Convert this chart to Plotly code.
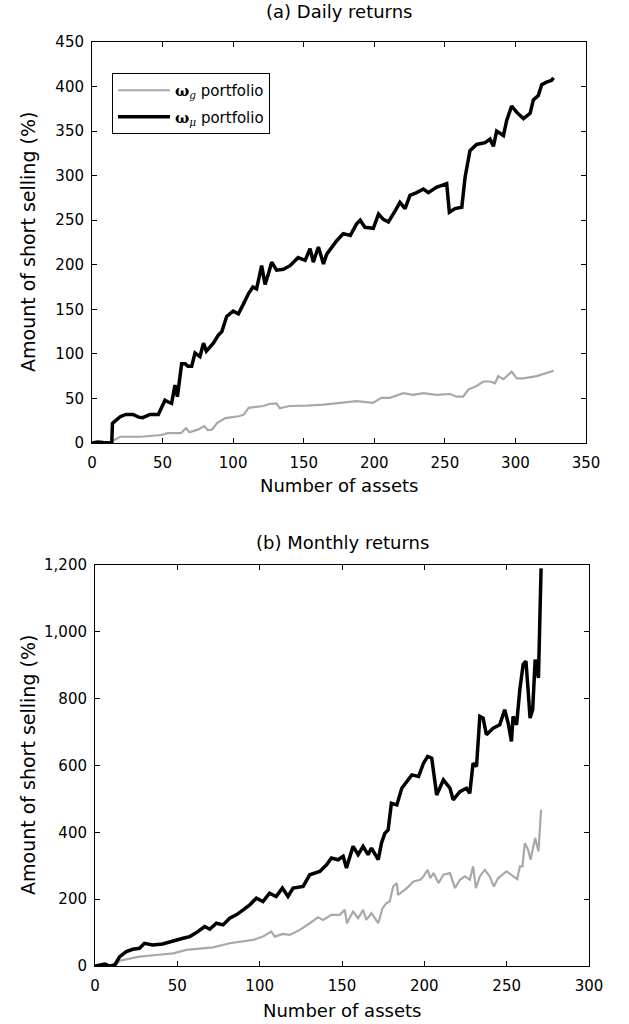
import plotly.graph_objects as go

# ---------------- data: (a) Daily returns ----------------
daily_mu_x = [0, 4, 8, 12, 14, 14.5, 17, 20, 24, 29, 33, 36, 41, 47, 49.4, 51.7, 54, 56.4, 58.8, 60.5,
              63.5, 66, 68, 70.6, 73, 75, 76.5, 79, 81, 86, 89.5, 92, 95.4, 100, 103.7, 107, 111, 114,
              116.6, 120.2, 122.6, 125, 127.3, 130.8, 135.6, 140.3, 146, 151, 154.5, 156.8, 160.4, 164,
              166.3, 173.4, 178, 183, 187.5, 190, 193.4, 199.3, 203, 206.4, 210, 215, 218.2, 221.8, 225.3,
              230, 234.8, 238.3, 244, 251.3, 253.2, 257.2, 262, 264.3, 267.8, 272.5, 278.5, 282, 284.4,
              286.7, 291.5, 293.8, 297.3, 301, 305.7, 310.4, 312.7, 316.2, 318.6, 322, 325.7, 327]
daily_mu_y = [0, 1, 0.5, 0, 0, 22, 25, 29.5, 32, 32, 29, 28.5, 32, 32, 40, 48, 46, 44.5, 65, 52,
              89, 89, 86, 86, 101, 99, 97, 112, 103, 112, 121, 125, 142, 148, 145, 155, 168, 175,
              173, 199, 178, 190, 203, 194, 195, 199, 208, 205, 218, 203, 220, 201,
              212, 227, 235, 233, 246, 250, 242, 241, 257, 251, 248, 261, 270, 263, 278,
              281, 285, 281, 287, 291, 259, 263, 264.5, 298, 328, 335, 337, 341, 333,
              350, 345, 362, 378, 371, 364, 370, 385, 390, 402, 405, 407, 410]

daily_g_x = [14, 20, 34.5, 48.9, 53.6, 62.9, 66.6, 69, 75, 79.6, 82, 85, 88.6, 94.5, 104, 107.6, 111,
             121.5, 126.1, 130.8, 133, 140, 152, 164, 176, 187.5, 199, 205, 211, 220.6, 227.6, 234.8,
             244, 253.6, 258.3, 263, 266.6, 272.5, 277.2, 282, 285.5, 287.8, 291.5, 297.3, 301, 305.7,
             315, 319.7, 325.7, 327]
daily_g_y = [2, 7, 7, 9, 11, 11, 16.6, 12, 15, 19, 14.5, 15, 22.4, 28, 30, 32, 39.5,
             41.5, 44, 44.5, 39, 41.5, 42, 43, 45, 47, 45, 50.7, 50.7, 56, 54, 56,
             54, 55, 52, 52, 60, 64, 69, 69, 67, 75, 71.6, 80, 72.5, 72.5,
             75, 77, 80, 81]

# ---------------- data: (b) Monthly returns ----------------
monthly_mu_x = [0, 3, 6, 9, 12, 15, 19, 23, 27, 30, 35, 41, 47, 53.5, 57.5, 61.6, 66.6, 69.7, 73.7,
                77.8, 81.8, 85.8, 90, 94, 98, 102, 106, 110, 113.8, 117.2, 120.3, 126.4, 130.4, 136.5,
                140.6, 143.6, 147.6, 150.7, 152.7, 156.7, 159.8, 162.8, 165.8, 167.9, 172, 174, 176,
                178, 180, 183.3, 186.3, 189.4, 192.4, 196.5, 199.5, 202, 204.5, 207.5, 211.6, 215.6,
                217.5, 221.6, 225.6, 227.6, 229.6, 231.7, 233.7, 235.7, 237.7, 241.8, 245.8, 248.8,
                250.9, 252.9, 253.9, 256, 258, 260, 261.7, 263, 264.2, 265.8, 267.3, 269.3, 270.9]
monthly_mu_y = [0, 2, 6, 0, 3, 28, 43, 50, 53, 68, 63, 66, 73, 83, 88, 100, 118, 110, 128,
                123, 143, 153, 168, 183, 203, 193, 218, 208, 233, 208, 233, 238, 273, 283,
                303, 323, 318, 328, 293, 358, 333, 358, 333, 353, 318, 368, 397,
                407, 487, 482, 532, 552, 572, 567, 607, 627, 622, 512, 557, 532,
                497, 522, 532, 517, 607, 597, 747, 742, 692, 712, 722, 767,
                727, 672, 747, 722, 827, 902, 912, 827, 742, 767, 917, 862, 1190]

monthly_g_x = [12, 15, 19, 27, 37.3, 47.4, 55.5, 63.6, 71.7, 81.8, 89.9, 96, 102, 107, 109.2, 114,
               118.3, 124.4, 130.4, 135.5, 138.5, 143.6, 148.6, 151.7, 153, 156.7, 159.8, 162.8, 164.8,
               167.9, 172, 174.6, 177, 179, 181.1, 183.3, 184, 189.4, 193.4, 197.5, 199.5, 202, 203.6,
               205.6, 208.6, 211.6, 215.6, 218.6, 221.6, 224.6, 227.6, 229.6, 231.3, 233.7, 236.7,
               239.7, 242.2, 244.8, 249.9, 252.9, 256.4, 258, 259.6, 261, 263, 264.5, 267.3, 269.3, 270.9]
monthly_g_y = [0, 16, 20, 28, 33, 38, 48, 53, 56, 68, 75, 78, 88, 103, 88, 96,
               93, 108, 128, 146, 138, 153, 153, 168, 128, 163, 143, 168, 138,
               158, 128, 173, 188, 193, 238, 248, 213, 233, 253, 258, 268, 288, 263,
               278, 248, 273, 278, 233, 258, 268, 258, 298, 233, 268, 288,
               268, 238, 263, 283, 273, 260, 298, 298, 368, 348, 318, 383, 343, 468]

daily_xticks = [0, 50, 100, 150, 200, 250, 300, 350]
daily_yticks = [0, 50, 100, 150, 200, 250, 300, 350, 400, 450]
monthly_xticks = [0, 50, 100, 150, 200, 250, 300]
monthly_yticks = [0, 200, 400, 600, 800, 1000, 1200]

GRAY = "#a8a8a8"
FONT = "DejaVu Sans, sans-serif"
W, H = 629, 1024

LEG_G = '<span style="font-family:DejaVu Serif"><b>ω</b><sub><i>g</i></sub></span> portfolio'
LEG_MU = '<span style="font-family:DejaVu Serif"><b>ω</b><sub><i>μ</i></sub></span> portfolio'

fig = go.Figure()
fig.add_trace(go.Scatter(x=daily_g_x, y=daily_g_y, mode="lines", xaxis="x", yaxis="y",
                         line=dict(color=GRAY, width=2.2), legendgroup="g", name=LEG_G))
fig.add_trace(go.Scatter(x=daily_mu_x, y=daily_mu_y, mode="lines", xaxis="x", yaxis="y",
                         line=dict(color="black", width=3.5), legendgroup="mu", name=LEG_MU))
fig.add_trace(go.Scatter(x=monthly_g_x, y=monthly_g_y, mode="lines", xaxis="x2", yaxis="y2",
                         line=dict(color=GRAY, width=2.2), showlegend=False))
fig.add_trace(go.Scatter(x=monthly_mu_x, y=monthly_mu_y, mode="lines", xaxis="x2", yaxis="y2",
                         line=dict(color="black", width=3.5), showlegend=False))


def px_x(p):
    return p / W


def px_y(p):
    return 1 - p / H


axis_common = dict(showline=True, linecolor="black", linewidth=1, mirror="ticks",
                   ticks="inside", ticklen=5, tickwidth=1, tickcolor="black",
                   showgrid=False, zeroline=False, automargin=False,
                   tickfont=dict(family=FONT, size=15, color="black"))

fig.update_layout(
    width=W, height=H,
    margin=dict(l=0, r=0, t=0, b=0, pad=0, autoexpand=False),
    paper_bgcolor="white", plot_bgcolor="white",
    font=dict(family=FONT, color="black"),
    xaxis=dict(domain=[px_x(92), px_x(586)], range=[0, 350], tickvals=daily_xticks,
               anchor="y", ticklabelstandoff=6, **axis_common),
    yaxis=dict(domain=[px_y(443), px_y(42)], range=[0, 450], tickvals=daily_yticks,
               anchor="x", ticklabelstandoff=4, **axis_common),
    xaxis2=dict(domain=[px_x(95), px_x(589)], range=[0, 300], tickvals=monthly_xticks,
                anchor="y2", ticklabelstandoff=6, **axis_common),
    yaxis2=dict(domain=[px_y(966), px_y(565)], range=[0, 1200], tickvals=monthly_yticks,
                tickformat=",", anchor="x2", ticklabelstandoff=4, **axis_common),
    legend=dict(x=px_x(112), y=px_y(73), xanchor="left", yanchor="top",
                bgcolor="white", bordercolor="black", borderwidth=1,
                font=dict(family=FONT, size=15, color="black"), itemwidth=52,
                tracegroupgap=4),
    showlegend=True,
)

ann = []


def add_text(text, x, y, size, angle=0):
    ann.append(dict(text=text, x=px_x(x), y=px_y(y), xref="paper", yref="paper",
                    showarrow=False, textangle=angle, xanchor="center", yanchor="middle",
                    font=dict(family=FONT, size=size, color="black")))


add_text("(a) Daily returns", 339, 11, 18)
add_text("Number of assets", 339, 485, 18)
add_text("Amount of short selling (%)", 28, 242, 19, -90)
add_text("(b) Monthly returns", 342, 542, 18)
add_text("Number of assets", 342, 1010, 18)
add_text("Amount of short selling (%)", 28, 765, 19, -90)
fig.update_layout(annotations=ann)

fig.write_html(
    "out.html",
    config={"displayModeBar": False},
    post_script="document.documentElement.style.margin='0';document.body.style.margin='0';"
                "document.body.style.padding='0';document.body.style.overflow='hidden';",
)
